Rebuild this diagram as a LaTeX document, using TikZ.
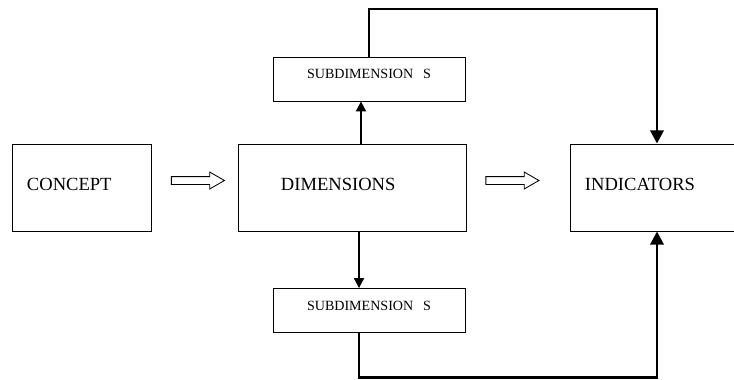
\documentclass[tikz,border=0pt]{standalone}
\usepackage{fontspec}
\setmainfont{Liberation Serif}
\usetikzlibrary{arrows.meta, shapes.arrows, positioning, calc}
\tikzset{
  block/.style    = {draw, line width=0.6pt, minimum height=2.175cm, align=left,
                     text depth=0.15cm, inner xsep=0.375cm,
                     font=\fontsize{13.2}{15}\selectfont},
  subblock/.style = {draw, line width=0.6pt, minimum width=4.8cm, minimum height=1.1cm,
                     text depth=0.25cm, font=\fontsize{10}{12}\selectfont},
  hollow/.style   = {draw, single arrow, line width=0.6pt, fill=white,
                     minimum height=1.325cm, minimum width=0.4cm, inner sep=0.0875cm,
                     single arrow head extend=0.1125cm, single arrow tip angle=60},
  link/.style     = {-{Triangle[length=0.25cm, width=0.25cm]}, line width=1.4pt},
  feed/.style     = {-{Triangle[length=0.33cm, width=0.33cm]}, line width=2pt}
}

\begin{document}
\begin{tikzpicture}[x=0.025cm, y=-0.025cm]
\useasboundingbox (0,0) rectangle (734,380);
% main row
\node[block, minimum width=3.475cm, text width=2.725cm] (concept) at (81.5,187.5) {CONCEPT};
\node[block, minimum width=5.7cm, text width=4.95cm]    (dims)    at (352,187.5)  {\hspace*{0.7cm}DIMENSIONS};
\node[block, minimum width=4.25cm, text width=3.5cm]    (indic)   at (655,187.5)  {INDICATORS};
\node[hollow] (arrA) at (194.5,180.5) {};
\node[hollow] (arrB) at (509,180.5) {};
% sub boxes
\node[subblock] (subup)   at (369,79)    {SUBDIMENSION\hspace{0.7em}S};
\node[subblock] (subdown) at (369,310.5) {SUBDIMENSION\hspace{0.7em}S};
\draw[link] ([xshift=0.225cm]dims.north) -- ([xshift=0.225cm]dims.north |- subup.south);
\draw[link] ([xshift=0.175cm]dims.south) -- ([xshift=0.175cm]dims.south |- subdown.north);
% routes to indicators
\coordinate (topbend) at (657,9);
\coordinate (botbend) at (657,377.5);
\draw[feed] (subup.north) |- (topbend) -- (topbend |- indic.north);
\draw[feed] ([xshift=-0.25cm]subdown.south) |- (botbend) -- (botbend |- indic.south);
\end{tikzpicture}
\end{document}
